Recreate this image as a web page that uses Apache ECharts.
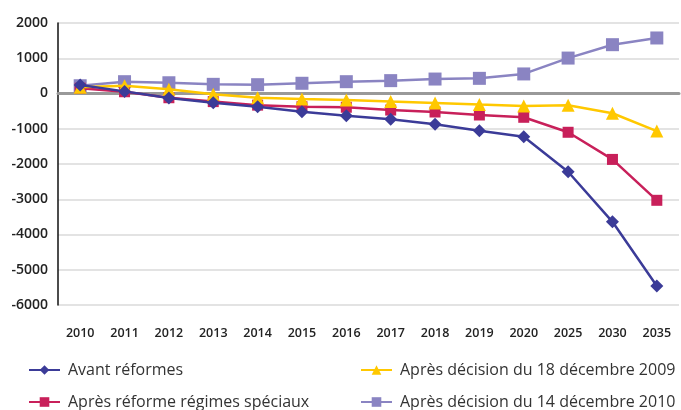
<!DOCTYPE html>
<html><head><meta charset="utf-8">
<script src="https://cdn.jsdelivr.net/npm/echarts@6/dist/echarts.min.js"></script>
<style>html,body{margin:0;padding:0;background:#fff}#c{width:681px;height:410px}</style>
</head><body><div id="c"></div>
<script>
const categories = ['2010','2011','2012','2013','2014','2015','2016','2017','2018','2019','2020','2025','2030','2035'];
const avantReformes = [240, 60, -130, -260, -375, -515, -630, -730, -875, -1055, -1225, -2220, -3640, -5460];
const apresRegimesSpeciaux = [150, 50, -120, -230, -330, -375, -390, -470, -525, -610, -675, -1100, -1870, -3030];
const apresDecision2009 = [175, 220, 120, -20, -120, -155, -185, -230, -270, -315, -355, -335, -560, -1065];
const apresDecision2010 = [220, 335, 305, 260, 250, 290, 335, 365, 410, 430, 555, 1005, 1385, 1575];
const yTicks = { min: -6000, max: 2000, interval: 1000 };

const names = ['Avant réformes','Après réforme régimes spéciaux','Après décision du 18 décembre 2009','Après décision du 14 décembre 2010'];
const font = 'Open Sans';
const chart = echarts.init(document.getElementById('c'));
function s(name, data, color, symbol, size, z){
  return {name, type:'line', data, symbol, symbolSize:size, z,
    lineStyle:{color, width:2.5}, itemStyle:{color}, emphasis:{disabled:true}, animation:false};
}
function lg(name, left, top){
  return {data:[name], left, top, orient:'horizontal', itemWidth:31, itemHeight:12, padding:0,
    textStyle:{fontFamily:font, fontSize:16, color:'#333', lineHeight:16, padding:[0,0,0,3]}, selectedMode:false};
}
chart.setOption({
  animation:false,
  grid:{left:58, right:2, top:23, bottom:105},
  legend:[
    lg(names[0], 28, 362), lg(names[1], 28, 394),
    lg(names[2], 360, 362), lg(names[3], 360, 394)
  ],
  xAxis:{type:'category', data:categories, boundaryGap:true,
    axisLine:{onZero:true, lineStyle:{color:'#999', width:3}}, axisTick:{show:false},
    axisLabel:{fontFamily:font, fontSize:12.5, fontWeight:600, color:'#222', margin:22},
    position:'bottom'},
  yAxis:{type:'value', min:yTicks.min, max:yTicks.max, interval:yTicks.interval,
    axisLine:{show:true, lineStyle:{color:'#111', width:1.5}}, axisTick:{show:false},
    splitLine:{lineStyle:{color:'#dadada', width:1.5}},
    axisLabel:{fontFamily:font, fontSize:14, fontWeight:600, color:'#222', margin:10,
      formatter: v => String(v)}},
  series:[
    s(names[0], avantReformes, '#3b3b98', 'diamond', 13, 5),
    s(names[1], apresRegimesSpeciaux, '#c8205a', 'rect', 11, 3),
    s(names[2], apresDecision2009, '#ffc800', 'triangle', 13, 4),
    s(names[3], apresDecision2010, '#8a84c2', 'rect', 13, 2)
  ]
});
</script></body></html>
